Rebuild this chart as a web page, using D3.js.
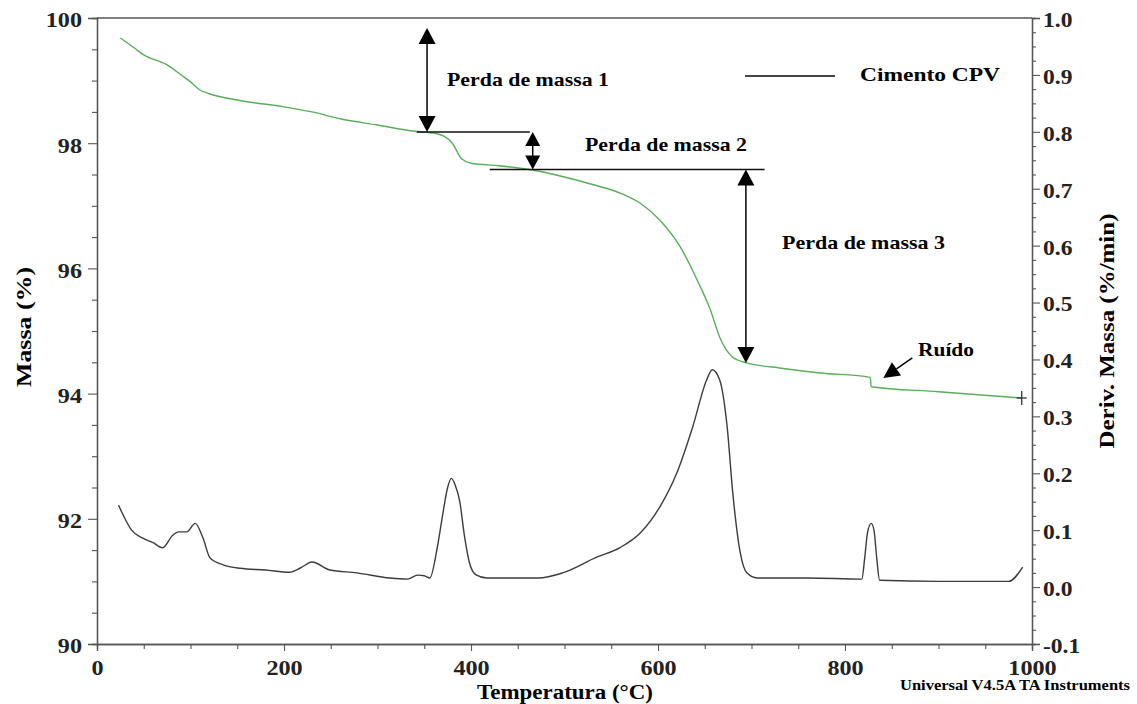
<!DOCTYPE html>
<html>
<head>
<meta charset="utf-8">
<script src="https://cdn.jsdelivr.net/npm/d3@7"></script>
<style>
  html, body { margin: 0; padding: 0; background: #fff; }
  svg { display: block; font-family: "Liberation Serif", "Times New Roman", serif; font-weight: bold; }
</style>
</head>
<body>
<svg id="chart" width="1137" height="704"></svg>
<script>
// Thermogravimetric curve: temperature (°C) and residual mass (%)
const massTemp = [25, 40, 50, 75, 90, 100, 110, 120, 150, 200, 230, 260, 300, 340, 360, 370, 380, 390, 400, 430, 470, 500, 530, 560, 581, 602, 624, 642, 656, 666, 680, 695, 730, 773, 827, 828, 900, 989];
const massValue = [99.68, 99.52, 99.41, 99.25, 99.09, 98.98, 98.85, 98.79, 98.69, 98.58, 98.50, 98.39, 98.29, 98.19, 98.16, 98.12, 98.00, 97.75, 97.68, 97.64, 97.56, 97.46, 97.34, 97.20, 97.04, 96.77, 96.34, 95.81, 95.34, 94.90, 94.58, 94.49, 94.41, 94.33, 94.26, 94.11, 94.03, 93.93];

// Derivative of mass (%/min)
const derivTemp = [23, 30, 37, 49, 60, 70, 81, 87, 96, 105, 113, 121, 135, 153, 180, 206, 218, 230, 249, 278, 313, 332, 343, 350, 356, 364, 370, 375, 379, 383, 388, 393, 398, 405, 417, 472, 498, 535, 559, 581, 602, 620, 637, 652, 658, 666, 674, 680, 688, 695, 706, 760, 818, 821, 824, 828, 831, 834, 837, 900, 975, 990];
const derivValue = [0.144, 0.120, 0.100, 0.086, 0.078, 0.069, 0.091, 0.097, 0.097, 0.112, 0.088, 0.051, 0.039, 0.033, 0.030, 0.026, 0.034, 0.044, 0.030, 0.025, 0.016, 0.014, 0.021, 0.020, 0.016, 0.070, 0.130, 0.175, 0.191, 0.180, 0.150, 0.090, 0.045, 0.022, 0.016, 0.016, 0.025, 0.053, 0.069, 0.095, 0.141, 0.200, 0.281, 0.364, 0.382, 0.364, 0.281, 0.165, 0.060, 0.025, 0.016, 0.016, 0.014, 0.050, 0.095, 0.112, 0.100, 0.050, 0.012, 0.010, 0.010, 0.035];

// Axis ticks
const tempTicks = [0, 200, 400, 600, 800, 1000];
const massTicks = [90, 92, 94, 96, 98, 100];
const derivTicks = [-0.1, 0.0, 0.1, 0.2, 0.3, 0.4, 0.5, 0.6, 0.7, 0.8, 0.9, 1.0];

// Mass-loss steps: [temperature, upper mass, lower mass]
const stepArrows = [[353, 99.84, 98.18], [466, 98.18, 97.58], [694, 97.58, 94.49]];
const stepLevels = [[342, 463, 98.18], [420, 714, 97.58]];
const stepLabels = ["Perda de massa 1", "Perda de massa 2", "Perda de massa 3"];

const svg = d3.select("#chart");
const L = 97, R = 1032, T = 18, B = 644;

const x = d3.scaleLinear().domain([0, 1000]).range([L, R]);
const yM = d3.scaleLinear().domain([90, 100]).range([B, T]);
const yD = d3.scaleLinear().domain([-0.1, 1.0]).range([B, T]);

const axisColor = "#555";

function stretch(sel, w) {
  sel.attr("textLength", w).attr("lengthAdjust", "spacingAndGlyphs");
}
function stretchBy(sel, k) {
  sel.each(function () {
    const w = this.getComputedTextLength();
    d3.select(this).attr("textLength", w * k).attr("lengthAdjust", "spacingAndGlyphs");
  });
}
function styleAxis(g) {
  g.select(".domain").attr("stroke", axisColor).attr("stroke-width", 1.3);
  g.selectAll(".tick line").attr("stroke", axisColor).attr("stroke-width", 1.1);
  g.selectAll("text").attr("fill", "#222").style("font-size", "21px").style("font-family", "Liberation Serif").style("font-weight", "bold");
}

// minor ticks
const minorX = d3.range(0, 1001, 50).filter(d => d % 200 !== 0);
const minorM = d3.range(90, 100.01, 0.5).filter(d => Math.abs(d % 2) > 1e-6);
const minorD = d3.range(-0.1, 1.001, 0.025).filter(d => Math.abs(Math.round(d * 10) - d * 10) > 1e-6);

svg.append("g").attr("transform", `translate(0,${B})`)
  .call(d3.axisBottom(x).tickValues(minorX).tickSize(5).tickFormat(""))
  .call(styleAxis);
svg.append("g").attr("transform", `translate(${L},0)`)
  .call(d3.axisLeft(yM).tickValues(minorM).tickSize(5).tickFormat(""))
  .call(styleAxis);
svg.append("g").attr("transform", `translate(${R},0)`)
  .call(d3.axisRight(yD).tickValues(minorD).tickSize(4).tickFormat(""))
  .call(styleAxis);

const gx = svg.append("g").attr("transform", `translate(0,${B})`)
  .call(d3.axisBottom(x).tickValues(tempTicks).tickSize(7).tickPadding(9).tickFormat(d => d))
  .call(styleAxis);
stretchBy(gx.selectAll("text"), 1.15);

const gy = svg.append("g").attr("transform", `translate(${L},0)`)
  .call(d3.axisLeft(yM).tickValues(massTicks).tickSize(9).tickPadding(6).tickFormat(d => d))
  .call(styleAxis);
stretchBy(gy.selectAll("text"), 1.15);
gy.selectAll("text").attr("dy", "0.42em");

const gr = svg.append("g").attr("transform", `translate(${R},0)`)
  .call(d3.axisRight(yD).tickValues(derivTicks).tickSize(8).tickPadding(3).tickFormat(d => d.toFixed(1)))
  .call(styleAxis);
stretchBy(gr.selectAll("text"), 1.12);
gr.selectAll("text").attr("dy", "0.4em");

// top frame line
svg.append("line").attr("x1", L).attr("x2", R).attr("y1", T).attr("y2", T)
  .attr("stroke", axisColor).attr("stroke-width", 1.3);

// curves
const massData = massTemp.map((t, i) => [t, massValue[i]]);
const derivData = derivTemp.map((t, i) => [t, derivValue[i]]);

svg.append("path").datum(derivData)
  .attr("fill", "none").attr("stroke", "#3c3c3c").attr("stroke-width", 1.4)
  .attr("d", d3.line().x(d => x(d[0])).y(d => yD(d[1])).curve(d3.curveMonotoneX));

svg.append("path").datum(massData)
  .attr("fill", "none").attr("stroke", "#5aad5a").attr("stroke-width", 1.4)
  .attr("d", d3.line().x(d => x(d[0])).y(d => yM(d[1])).curve(d3.curveMonotoneX));

// end marker of the mass curve
const endPt = massData[massData.length - 1];
svg.append("line").attr("x1", x(endPt[0])).attr("x2", x(endPt[0]))
  .attr("y1", yM(endPt[1]) - 7).attr("y2", yM(endPt[1]) + 7).attr("stroke", "#333").attr("stroke-width", 1.3);
svg.append("line").attr("x1", x(endPt[0]) - 5).attr("x2", x(endPt[0]) + 5)
  .attr("y1", yM(endPt[1])).attr("y2", yM(endPt[1])).attr("stroke", "#333").attr("stroke-width", 1.3);

// step levels
stepLevels.forEach(s => {
  svg.append("line").attr("x1", x(s[0])).attr("x2", x(s[1]))
    .attr("y1", yM(s[2])).attr("y2", yM(s[2])).attr("stroke", "#111").attr("stroke-width", 1.4);
});

function head(px, py, dir, w, h) {
  // dir: -1 pointing up, +1 pointing down
  const by = py - dir * h;
  svg.append("path").attr("d", `M${px},${py}L${px - w / 2},${by}L${px + w / 2},${by}Z`).attr("fill", "#000");
}
stepArrows.forEach(a => {
  const px = x(a[0]), y1 = yM(a[1]), y2 = yM(a[2]);
  const small = (y2 - y1) < 60;
  const w = small ? 15 : 17, h = small ? 14 : 16;
  svg.append("line").attr("x1", px).attr("x2", px).attr("y1", y1 + h / 2).attr("y2", y2 - h / 2)
    .attr("stroke", "#000").attr("stroke-width", 1.5);
  head(px, y1, -1, w, h);
  head(px, y2, 1, w, h);
});

// step labels
const lab1 = svg.append("text").attr("x", 447).attr("y", 86).style("font-size", "19px").text(stepLabels[0]);
stretch(lab1, 162);
const lab2 = svg.append("text").attr("x", 585).attr("y", 151).style("font-size", "19px").text(stepLabels[1]);
stretch(lab2, 162);
const lab3 = svg.append("text").attr("x", 782).attr("y", 249).style("font-size", "19px").text(stepLabels[2]);
stretch(lab3, 163);

// legend
svg.append("line").attr("x1", 745).attr("x2", 835).attr("y1", 76).attr("y2", 76)
  .attr("stroke", "#444").attr("stroke-width", 2.2);
const leg = svg.append("text").attr("x", 860).attr("y", 81).style("font-size", "19px").text("Cimento CPV");
stretch(leg, 140);

// noise marker
const noiseFrom = [872, 94.57], noiseTo = [841, 94.25];
{
  const x1 = x(noiseFrom[0]), y1 = yM(noiseFrom[1]), x2 = x(noiseTo[0]), y2 = yM(noiseTo[1]);
  const ang = Math.atan2(y2 - y1, x2 - x1), hl = 16, hw = 8;
  const bx = x2 - hl * Math.cos(ang), by = y2 - hl * Math.sin(ang);
  svg.append("line").attr("x1", x1).attr("y1", y1).attr("x2", bx).attr("y2", by)
    .attr("stroke", "#000").attr("stroke-width", 1.5);
  const nx = -Math.sin(ang) * hw, ny = Math.cos(ang) * hw;
  svg.append("path").attr("d", `M${x2},${y2}L${bx + nx},${by + ny}L${bx - nx},${by - ny}Z`).attr("fill", "#000");
}
const rn = svg.append("text").attr("x", 918).attr("y", 356).style("font-size", "19px").text("Ruído");
stretch(rn, 56);

// axis titles
const xt = svg.append("text").attr("x", 565).attr("y", 699).attr("text-anchor", "middle")
  .style("font-size", "20px").text("Temperatura (°C)");
stretch(xt, 176);

const yt = svg.append("text").attr("transform", "translate(31,327) rotate(-90)").attr("text-anchor", "middle")
  .style("font-size", "21px").text("Massa (%)");
stretch(yt, 120);

const yr = svg.append("text").attr("transform", "translate(1114,331) rotate(-90)").attr("text-anchor", "middle")
  .style("font-size", "21px").text("Deriv. Massa (%/min)");
stretch(yr, 235);

const credit = svg.append("text").attr("x", 1130).attr("y", 690).attr("text-anchor", "end")
  .style("font-size", "14px").text("Universal V4.5A TA Instruments");
stretch(credit, 230);
</script>
</body>
</html>
